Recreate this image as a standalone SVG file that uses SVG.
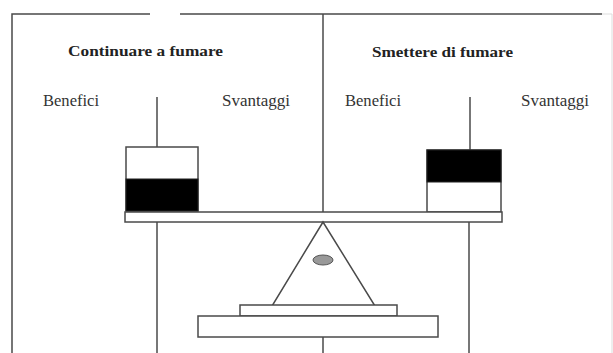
<svg xmlns="http://www.w3.org/2000/svg" width="613" height="353" viewBox="0 0 613 353">
<style>
.ln{stroke:#4a4a4a;stroke-width:1.5;fill:none}
.bx{stroke:#4a4a4a;stroke-width:1.5;fill:#fff}
.blk{fill:#000;stroke:#222;stroke-width:1}
.t{font-family:"Liberation Serif","Times New Roman",serif;font-size:16px;fill:#333}
.h{font-family:"Liberation Serif","Times New Roman",serif;font-size:15px;font-weight:bold;fill:#222}
</style>
<rect width="613" height="353" fill="#fff"/>
<g id="frame">
<path class="ln" d="M12,353 V14 H150 M180,14 H602"/>
<path d="M602,14 H612 V353" stroke="#ddd" stroke-width="1" fill="none"/>
<line class="ln" x1="323" y1="14" x2="323" y2="212"/>
</g>
<g id="titles">
<text class="h" x="68" y="56" textLength="155" lengthAdjust="spacingAndGlyphs">Continuare a fumare</text>
<text class="h" x="372" y="57" textLength="141" lengthAdjust="spacingAndGlyphs">Smettere di fumare</text>
<text class="t" x="43" y="106" textLength="56" lengthAdjust="spacingAndGlyphs">Benefici</text>
<text class="t" x="222" y="106" textLength="68" lengthAdjust="spacingAndGlyphs">Svantaggi</text>
<text class="t" x="345" y="106" textLength="56" lengthAdjust="spacingAndGlyphs">Benefici</text>
<text class="t" x="521" y="106" textLength="68" lengthAdjust="spacingAndGlyphs">Svantaggi</text>
</g>
<g id="left-pan">
<line class="ln" x1="157" y1="97" x2="157" y2="147"/>
<rect class="bx" x="126" y="147" width="72" height="64"/>
<rect class="blk" x="126" y="179" width="72" height="32"/>
</g>
<g id="right-pan">
<line class="ln" x1="470" y1="97" x2="470" y2="150"/>
<rect class="bx" x="427" y="150" width="74" height="62"/>
<rect class="blk" x="427" y="150" width="74" height="32"/>
</g>
<g id="beam">
<rect class="bx" x="125" y="212" width="377" height="10"/>
</g>
<g id="legs">
<line class="ln" x1="157" y1="222" x2="157" y2="353"/>
<line class="ln" x1="469" y1="222" x2="469" y2="353"/>
<line class="ln" x1="323" y1="337" x2="323" y2="353"/>
</g>
<g id="fulcrum">
<polygon class="ln" points="323,222 272,306 375,306"/>
<ellipse cx="323" cy="260" rx="10" ry="5" fill="#999" stroke="#555" stroke-width="1"/>
</g>
<g id="base">
<rect class="bx" x="240" y="305" width="157" height="11"/>
<rect class="bx" x="198" y="316" width="240" height="21"/>
</g>
</svg>
